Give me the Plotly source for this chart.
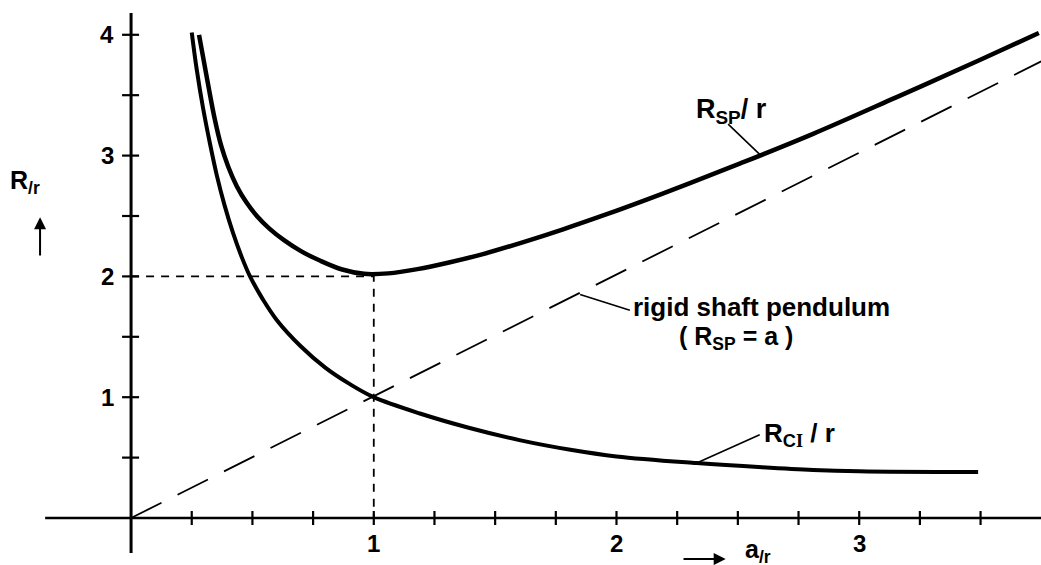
import plotly.graph_objects as go

# Upper curve: R_SP / r against a / r
a_sp = [0.28, 0.30, 0.32, 0.345, 0.37, 0.40, 0.435, 0.475, 0.52, 0.57, 0.63, 0.70,
        0.78, 0.87, 0.96, 1.06, 1.18, 1.31, 1.45, 1.61, 1.78, 1.96, 2.13, 2.30,
        2.51, 2.81, 3.15, 3.49, 3.74]
r_sp = [4.00, 3.78, 3.56, 3.30, 3.09, 2.91, 2.749, 2.613, 2.496, 2.396, 2.30, 2.209,
        2.129, 2.057, 2.021, 2.025, 2.06, 2.115, 2.185, 2.28, 2.39, 2.515, 2.64, 2.77,
        2.935, 3.18, 3.48, 3.785, 4.015]

# Lower curve: R_CI / r against a / r
a_ci = [0.25, 0.27, 0.296, 0.325, 0.354, 0.385, 0.42, 0.455, 0.49, 0.543, 0.60,
        0.70, 0.80, 0.90, 1.00, 1.19, 1.395, 1.60, 1.81, 2.00, 2.33, 2.60, 2.81,
        3.00, 3.49]
r_ci = [4.02, 3.72, 3.40, 3.10, 2.83, 2.59, 2.36, 2.165, 2.00, 1.81, 1.64,
        1.42, 1.245, 1.11, 1.00, 0.865, 0.745, 0.645, 0.565, 0.51, 0.455, 0.42, 0.398,
        0.387, 0.38]

# Rigid shaft pendulum: R_SP = a
a_rigid = [0.0, 3.75]
r_rigid = [0.0, 3.78]

# Guide lines to the minimum point (1, 2)
a_min = 1.0
r_min = 2.0

x_tick_vals = [0.25 * i for i in range(1, 15)]
x_tick_text = {1.0: "1", 2.0: "2", 3.0: "3"}
y_tick_vals = [0.5 * i for i in range(1, 9)]
y_tick_text = {1.0: "1", 2.0: "2", 3.0: "3", 4.0: "4"}

X_RANGE = [-0.540, 3.749]
Y_RANGE = [-0.389, 4.288]

FONT = "Liberation Sans"
INK = "black"

fig = go.Figure()

fig.add_trace(go.Scatter(x=a_rigid, y=r_rigid, mode="lines",
                         line=dict(color=INK, width=1.8, dash="34px,18px")))
fig.add_trace(go.Scatter(x=[0, a_min, a_min], y=[r_min, r_min, 0], mode="lines",
                         line=dict(color=INK, width=1.8, dash="8px,7px")))
fig.add_trace(go.Scatter(x=a_sp, y=r_sp, mode="lines",
                         line=dict(color=INK, width=4.5, shape="spline", smoothing=1.0)))
fig.add_trace(go.Scatter(x=a_ci, y=r_ci, mode="lines",
                         line=dict(color=INK, width=4, shape="spline", smoothing=1.0)))

shapes = []
# axes
shapes.append(dict(type="line", xref="x", yref="y", x0=-0.354, x1=X_RANGE[1], y0=0, y1=0,
                   line=dict(color=INK, width=2.5)))
shapes.append(dict(type="line", xref="x", yref="y", x0=0, x1=0, y0=-0.29, y1=4.18,
                   line=dict(color=INK, width=3)))
# tick marks
for v in x_tick_vals:
    shapes.append(dict(type="line", xref="x", yref="y", x0=v, x1=v,
                       ysizemode="pixel", yanchor=0, y0=-7, y1=7,
                       line=dict(color=INK, width=2.2)))
for v in y_tick_vals:
    shapes.append(dict(type="line", xref="x", yref="y", y0=v, y1=v,
                       xsizemode="pixel", xanchor=0, x0=-9, x1=8,
                       line=dict(color=INK, width=2.2)))
# leader lines
shapes.append(dict(type="line", xref="x", yref="y", x0=2.46, y0=3.26, x1=2.59, y1=3.01,
                   line=dict(color=INK, width=1.6)))
shapes.append(dict(type="line", xref="x", yref="y", x0=1.85, y0=1.85, x1=2.055, y1=1.72,
                   line=dict(color=INK, width=1.6)))
shapes.append(dict(type="line", xref="x", yref="y", x0=2.335, y0=0.46, x1=2.59, y1=0.69,
                   line=dict(color=INK, width=1.6)))

annotations = []
tick_font = dict(family=FONT, size=24, weight="bold", color=INK)
for v, t in x_tick_text.items():
    annotations.append(dict(x=v, y=-0.207, text=t, showarrow=False, xanchor="center",
                            yanchor="middle", font=tick_font))
for v, t in y_tick_text.items():
    annotations.append(dict(x=-0.062, y=v, text=t, showarrow=False, xanchor="right",
                            yanchor="middle", font=tick_font))

lab_font = dict(family=FONT, size=25, weight="bold", color=INK)
annotations += [
    dict(x=-0.505, y=2.78, text="R<sub>/r</sub>", showarrow=False, xanchor="left",
         yanchor="middle", font=lab_font),
    dict(x=2.52, y=-0.27, text="a<sub>/r</sub>", showarrow=False, xanchor="left",
         yanchor="middle", font=lab_font),
    dict(x=2.32, y=3.37, text="R<sub>SP</sub>/ r", showarrow=False, xanchor="left",
         yanchor="middle", font=dict(family=FONT, size=27, weight="bold", color=INK)),
    dict(x=2.60, y=0.69, text="R<sub>C<span style='font-family:Liberation Serif'>I</span></sub> / r",
         showarrow=False, xanchor="left", yanchor="middle",
         font=dict(family=FONT, size=26, weight="bold", color=INK)),
    dict(x=2.06, y=1.745, text="rigid shaft pendulum", showarrow=False, xanchor="left",
         yanchor="middle", font=dict(family=FONT, size=26, weight="bold", color=INK)),
    dict(x=2.25, y=1.49, text="( R<sub>SP</sub> = a )", showarrow=False, xanchor="left",
         yanchor="middle", font=dict(family=FONT, size=25, weight="bold", color=INK)),
    # direction arrows next to the axis titles
    dict(x=-0.375, y=2.49, ax=-0.375, ay=2.16, xref="x", yref="y", axref="x", ayref="y",
         text="", showarrow=True, arrowhead=2, arrowsize=1.2, arrowwidth=2, arrowcolor=INK),
    dict(x=2.45, y=-0.34, ax=2.27, ay=-0.34, xref="x", yref="y", axref="x", ayref="y",
         text="", showarrow=True, arrowhead=2, arrowsize=1.2, arrowwidth=2, arrowcolor=INK),
]

fig.update_layout(
    width=1041, height=565,
    margin=dict(l=0, r=0, t=0, b=0),
    paper_bgcolor="white", plot_bgcolor="white",
    showlegend=False,
    xaxis=dict(range=X_RANGE, visible=False, fixedrange=True),
    yaxis=dict(range=Y_RANGE, visible=False, fixedrange=True),
    shapes=shapes,
    annotations=annotations,
)

fig.write_html("out.html")
